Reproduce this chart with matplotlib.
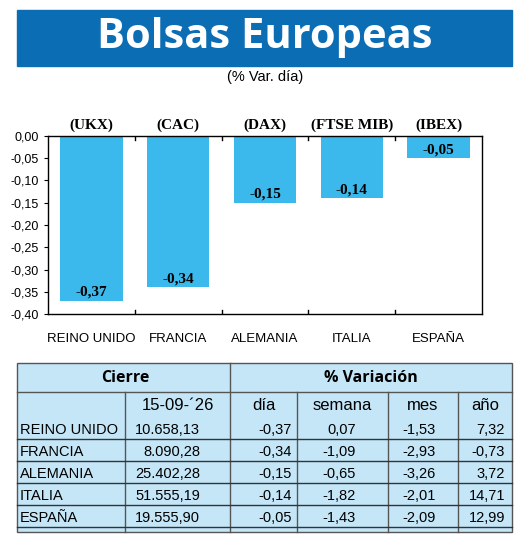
import matplotlib.pyplot as plt
from matplotlib.patches import Rectangle

# data
paises = ["REINO UNIDO", "FRANCIA", "ALEMANIA", "ITALIA", "ESPAÑA"]
indices = ["(UKX)", "(CAC)", "(DAX)", "(FTSE MIB)", "(IBEX)"]
var_dia = [-0.37, -0.34, -0.15, -0.14, -0.05]
cierre = ["10.658,13", "8.090,28", "25.402,28", "51.555,19", "19.555,90"]
var_semana = ["0,07", "-1,09", "-0,65", "-1,82", "-1,43"]
var_mes = ["-1,53", "-2,93", "-3,26", "-2,01", "-2,09"]
var_anio = ["7,32", "-0,73", "3,72", "14,71", "12,99"]
fecha = "15-09-´26"
yticks = [0.0, -0.05, -0.10, -0.15, -0.20, -0.25, -0.30, -0.35, -0.40]
ytick_labels = ["0,00", "-0,05", "-0,10", "-0,15", "-0,20", "-0,25", "-0,30", "-0,35", "-0,40"]

W, H = 520, 538
plt.rcParams['font.family'] = ['Liberation Sans', 'DejaVu Sans']
fig = plt.figure(figsize=(W / 100, H / 100), dpi=100)

def fx(x): return x / W
def fy(y): return 1 - y / H

# title
fig.patches.append(Rectangle((fx(17), fy(66)), fx(495), 56 / H, transform=fig.transFigure,
                             color='#0b6db4', zorder=0))
fig.text(fx(265), fy(38), "Bolsas Europeas", color='white', fontsize=30, fontweight='bold',
         ha='center', va='center', family=['Open Sans', 'DejaVu Sans'])
fig.text(fx(265), fy(77), "(% Var. día)", fontsize=10.5, ha='center', va='center')

# bar chart
ax = fig.add_axes([fx(48), fy(314), fx(434), (314 - 136) / H])
x = range(len(paises))
ax.bar(x, var_dia, width=0.72, color='#3bb9ec', zorder=2)
ax.set_xlim(-0.5, len(paises) - 0.5)
ax.set_ylim(-0.40, 0)
ax.set_yticks(yticks)
ax.set_yticklabels(ytick_labels, fontsize=9)
ax.set_xticks(list(x))
ax.set_xticklabels(paises, fontsize=9.5)
ax.tick_params(axis='x', length=0, pad=14)
ax.tick_params(axis='y', length=3)
for i in range(1, len(paises)):
    ax.plot([i - 0.5, i - 0.5], [0, -0.01], color='black', lw=1)
    ax.plot([i - 0.5, i - 0.5], [-0.40, -0.39], color='black', lw=1)
for i, v in enumerate(var_dia):
    ax.text(i, v + 0.005, f"{v:.2f}".replace('.', ','), ha='center', va='bottom',
            fontsize=11, fontweight='bold', family=['Liberation Serif'])
    ax.text(i, 0.008, indices[i], ha='center', va='bottom', fontsize=11, fontweight='bold',
            family=['Liberation Serif'])
for s in ax.spines.values():
    s.set_linewidth(1)

# table
fig.patches.append(Rectangle((fx(17), fy(532)), fx(495), (532 - 363) / H, transform=fig.transFigure,
                             facecolor='#c4e6f7', edgecolor='#555555', lw=1, zorder=0))
cols = [17, 125, 230, 297, 388, 458, 512]
def hline(y, x0, x1, c='#333333', lw=1):
    fig.add_artist(plt.Line2D([fx(x0), fx(x1)], [fy(y), fy(y)], color=c, lw=lw))
def vline(xp, y0, y1):
    fig.add_artist(plt.Line2D([fx(xp), fx(xp)], [fy(y0), fy(y1)], color='#555555', lw=1))
hline(392, 17, 512, '#555555')
vline(230, 363, 532)
for c in cols[1:-1]:
    if c != 230:
        vline(c, 392, 532)
fig.text(fx(125), fy(378), "Cierre", fontsize=11.5, fontweight='bold', ha='center', va='center',
         family=['Open Sans', 'DejaVu Sans'])
fig.text(fx(371), fy(378), "% Variación", fontsize=11.5, fontweight='bold', ha='center', va='center',
         family=['Open Sans', 'DejaVu Sans'])
heads = [fecha, "día", "semana", "mes", "año"]
for j, h in enumerate(heads):
    cx = (cols[j + 1] + cols[j + 2]) / 2
    fig.text(fx(cx), fy(406), h, fontsize=12, ha='center', va='center')
row_y = [430, 452, 474, 496, 518]
rights = [200, 292, 356, 436, 505]
for r, y in enumerate(row_y):
    vals = [cierre[r], f"{var_dia[r]:.2f}".replace('.', ','), var_semana[r], var_mes[r], var_anio[r]]
    fig.text(fx(20), fy(y), paises[r], fontsize=10.5, ha='left', va='center',
             family=['Liberation Sans Narrow', 'Liberation Sans'])
    for j, v in enumerate(vals):
        fig.text(fx(rights[j]), fy(y), v, fontsize=10.5, ha='right', va='center',
                 family=['Liberation Sans Narrow', 'Liberation Sans'])
    hline(y + 9, 17, 512)

fig.savefig("out.png", dpi=100)
